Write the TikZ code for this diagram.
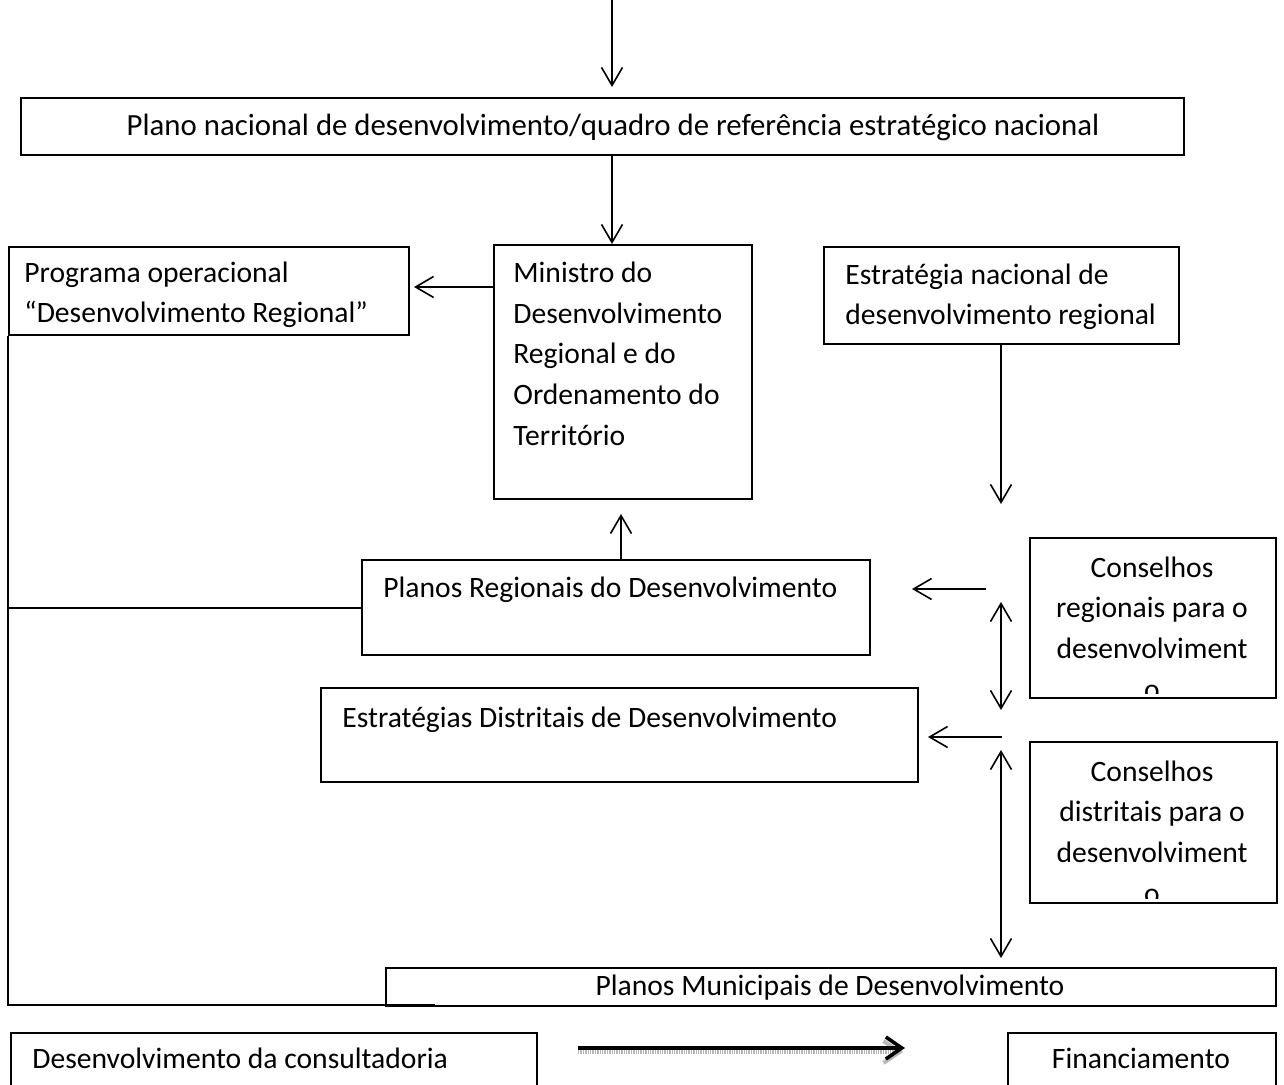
\documentclass[tikz,border=0pt]{standalone}
\usepackage{fontspec}
\setmainfont{Carlito}
\usepackage{tikz}
\usetikzlibrary{arrows.meta}
\usepackage{xcolor}

\begin{document}
\begin{tikzpicture}[x=0.5pt,y=-0.5pt]
        \tikzset{Box/.style={draw,line width=1pt,inner sep=0pt,anchor=north west}}
        \tikzset{Txt/.style={inner sep=0pt,anchor=base west,align=left,font=\fontsize{14.8}{20.3}\selectfont}}
        \tikzset{CTxt/.style={Txt,anchor=base,align=center}}
        \tikzset{EdgeStyle/.style={-{Straight Barb[length=9pt,width=10.5pt]},line width=0.8pt}}
        \tikzset{BothStyle/.style={{Straight Barb[length=9pt,width=10.5pt]}-{Straight Barb[length=9pt,width=10.5pt]},line width=0.8pt}}
        \useasboundingbox (0,0) rectangle (1284,1085);
        % boxes
        \node[Box,minimum width=581.5pt,minimum height=28.5pt] (plano) at (20,97) {};
        \node[Box,minimum width=200pt,minimum height=44pt] (programa) at (8,246) {};
        \node[Box,minimum width=129pt,minimum height=127pt] (ministro) at (493,244) {};
        \node[Box,minimum width=177.5pt,minimum height=48.5pt] (estrategia) at (823,246) {};
        \node[Box,minimum width=254pt,minimum height=47.5pt] (regionais) at (361,559) {};
        \node[Box,minimum width=123pt,minimum height=80pt] (conselhoR) at (1029,537) {};
        \node[Box,minimum width=298.5pt,minimum height=47pt] (distritais) at (320,687) {};
        \node[Box,minimum width=123.5pt,minimum height=80.5pt] (conselhoD) at (1029,741) {};
        \node[Box,minimum width=445pt,minimum height=19pt] (municipais) at (385,967) {};
        \node[Box,minimum width=263pt,minimum height=29pt] (consult) at (10,1032) {};
        \node[Box,minimum width=134pt,minimum height=29pt] (financ) at (1007,1032) {};
        % texts (base = last line)
        \node[CTxt,font=\fontsize{15.4}{18}\selectfont] (planoT) at (613,136) {Plano nacional de desenvolvimento/quadro de refer\^encia estrat\'egico nacional};
        \node[Txt] (programaT) at (24,323) {Programa operacional\\\textquotedblleft Desenvolvimento Regional\textquotedblright};
        \node[Txt] (ministroT) at (513,445) {Ministro do\\Desenvolvimento\\Regional e do\\Ordenamento do\\Territ\'orio};
        \node[Txt] (estrategiaT) at (845,325) {Estrat\'egia nacional de\\desenvolvimento regional};
        \node[Txt] (regionaisT) at (383,597) {Planos Regionais do Desenvolvimento};
        \node[Txt] (distritaisT) at (342,727) {Estrat\'egias Distritais de Desenvolvimento};
        \begin{scope}
            \clip (conselhoR.north west) rectangle ([yshift=3pt]conselhoR.south east);
            \node[CTxt] (conselhoRT) at (1152,699) {Conselhos\\regionais para o\\desenvolviment\\o};
        \end{scope}
        \begin{scope}
            \clip (conselhoD.north west) rectangle ([yshift=3pt]conselhoD.south east);
            \node[CTxt] (conselhoDT) at (1152,903) {Conselhos\\distritais para o\\desenvolviment\\o};
        \end{scope}
        \node[CTxt] (municipaisT) at (830,995) {Planos Municipais de Desenvolvimento};
        \node[Txt] (consultT) at (32,1068) {Desenvolvimento da consultadoria};
        \node[CTxt] (financT) at (1141,1068) {Financiamento};
        % free ends
        \coordinate (topIn) at (612,0);
        \coordinate (estOut) at (1001,504);
        \coordinate (crA) at (986,589);
        \coordinate (crB) at (912,589);
        \coordinate (cdA) at (1002,737);
        \coordinate (cdB) at (928,737);
        \coordinate (dR1) at (1001,602);
        \coordinate (dR2) at (1001,710);
        \coordinate (dD1) at (1001,750);
        \coordinate (dD2) at (1001,958);
        \coordinate (frameEnd) at (435,1005);
        \coordinate (finA) at (578,1048);
        \coordinate (finB) at (905,1048);
        % connectors
        \draw[EdgeStyle,shorten >=5pt] (topIn) -- (plano.north -| topIn);
        \draw[EdgeStyle] (plano.south -| topIn) -- (ministro.north -| topIn);
        \draw[EdgeStyle,shorten >=2pt] (ministro.west |- 0,287) -- (programa.east |- 0,287);
        \draw[EdgeStyle] (estrategia.south -| estOut) -- (estOut);
        \draw[EdgeStyle,shorten >=7pt] (regionais.north -| 621,0) -- (ministro.south -| 621,0);
        \draw[line width=1pt] (programa.south west) |- (frameEnd);
        \draw[line width=1pt] (regionais.west) -- (regionais.west -| programa.west);
        \draw[EdgeStyle] (crA) -- (crB);
        \draw[EdgeStyle] (cdA) -- (cdB);
        \draw[BothStyle] (dR1) -- (dR2);
        \draw[BothStyle] (dD1) -- (dD2);
        \draw[-{Straight Barb[length=8pt,width=11pt]},line width=2pt,gray!55,dash pattern=on 0.7pt off 0.5pt] ([yshift=-2pt]finA) -- ([yshift=-2pt,xshift=-1pt]finB);
        \draw[-{Straight Barb[length=8pt,width=11pt]},line width=1.8pt] (finA) -- (finB);
    \end{tikzpicture}
\end{document}
